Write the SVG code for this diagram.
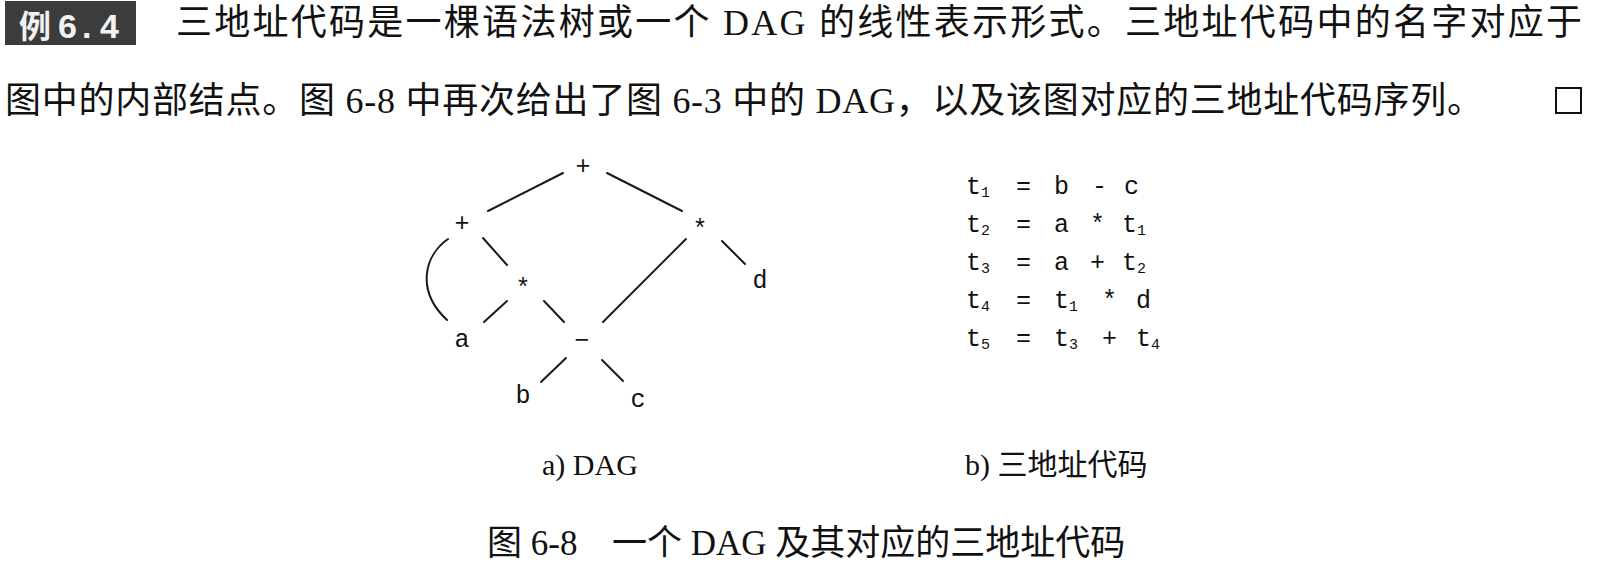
<svg xmlns="http://www.w3.org/2000/svg" width="1604" height="582" viewBox="0 0 1604 582">
<style>
.body{font-family:"Liberation Serif","Noto Sans CJK SC",serif;font-size:36px;fill:#111}
.cap{font-family:"Liberation Serif","Noto Sans CJK SC",serif;font-size:30px;fill:#111}
.cap2{font-family:"Liberation Serif","Noto Sans CJK SC",serif;font-size:35px;fill:#111}
.mono{font-family:"Liberation Mono","Courier New",monospace;font-size:25px;fill:#111}
.node{font-family:"Liberation Mono","Courier New",monospace;font-size:25px;fill:#111;text-anchor:middle}
.sub{font-size:15px}
.edge{stroke:#1a1a1a;stroke-width:2;fill:none;stroke-linecap:round}
</style>
<rect width="1604" height="582" fill="#ffffff"/>
<g id="header">
<rect x="5" y="1" width="131" height="44" fill="#3c3c3c"/>
<text y="38" font-family="Liberation Sans,'Noto Sans CJK SC',sans-serif" font-size="34" font-weight="bold" fill="#f2f2f2"><tspan x="19" font-size="32">例</tspan><tspan x="58">6</tspan><tspan x="82">.</tspan><tspan x="100">4</tspan></text>
<text class="body" x="176" y="35" textLength="1406" lengthAdjust="spacing">三地址代码是一棵语法树或一个 DAG 的线性表示形式。三地址代码中的名字对应于</text>
<text class="body" x="5" y="113" textLength="1478" lengthAdjust="spacing">图中的内部结点。图 6-8 中再次给出了图 6-3 中的 DAG，以及该图对应的三地址代码序列。</text>
<rect x="1556" y="88" width="25" height="25" fill="none" stroke="#111" stroke-width="2"/>
</g>
<g id="connectors">
<line class="edge" x1="563" y1="173" x2="488" y2="211"/>
<line class="edge" x1="607" y1="173" x2="682" y2="211"/>
<line class="edge" x1="483" y1="238" x2="507" y2="265"/>
<line class="edge" x1="722" y1="241" x2="745" y2="264"/>
<line class="edge" x1="686" y1="239" x2="603" y2="322"/>
<line class="edge" x1="507" y1="301" x2="484" y2="322"/>
<line class="edge" x1="544" y1="301" x2="564" y2="322"/>
<line class="edge" x1="566" y1="358" x2="541" y2="382"/>
<line class="edge" x1="602" y1="360" x2="623" y2="381"/>
<path class="edge" d="M448,239 C425,255 415,290 447,320"/>
</g>
<g id="n-root"><text class="node" x="583" y="174">+</text></g>
<g id="n-plus"><text class="node" x="462" y="231">+</text></g>
<g id="n-star-r"><text class="node" x="700" y="237">*</text></g>
<g id="n-star-m"><text class="node" x="523" y="296">*</text></g>
<g id="n-d"><text class="node" x="760" y="288">d</text></g>
<g id="n-a"><text class="node" x="462" y="347">a</text></g>
<g id="n-minus"><text class="node" x="582" y="348">−</text></g>
<g id="n-b"><text class="node" x="523" y="403">b</text></g>
<g id="n-c"><text class="node" x="638" y="407">c</text></g>
<g id="code">
<text class="mono" x="966" y="194">t<tspan class="sub" dy="3">1</tspan></text>
<text class="mono" x="1016" y="194">=</text>
<text class="mono" x="1054" y="194">b</text>
<text class="mono" x="1092" y="194">-</text>
<text class="mono" x="1124" y="194">c</text>

<text class="mono" x="966" y="232">t<tspan class="sub" dy="3">2</tspan></text>
<text class="mono" x="1016" y="232">=</text>
<text class="mono" x="1054" y="232">a</text>
<text class="mono" x="1090" y="232">*</text>
<text class="mono" x="1122" y="232">t<tspan class="sub" dy="3">1</tspan></text>

<text class="mono" x="966" y="270">t<tspan class="sub" dy="3">3</tspan></text>
<text class="mono" x="1016" y="270">=</text>
<text class="mono" x="1054" y="270">a</text>
<text class="mono" x="1090" y="270">+</text>
<text class="mono" x="1122" y="270">t<tspan class="sub" dy="3">2</tspan></text>

<text class="mono" x="966" y="308">t<tspan class="sub" dy="3">4</tspan></text>
<text class="mono" x="1016" y="308">=</text>
<text class="mono" x="1054" y="308">t<tspan class="sub" dy="3">1</tspan></text>
<text class="mono" x="1102" y="308">*</text>
<text class="mono" x="1136" y="308">d</text>

<text class="mono" x="966" y="346">t<tspan class="sub" dy="3">5</tspan></text>
<text class="mono" x="1016" y="346">=</text>
<text class="mono" x="1054" y="346">t<tspan class="sub" dy="3">3</tspan></text>
<text class="mono" x="1102" y="346">+</text>
<text class="mono" x="1136" y="346">t<tspan class="sub" dy="3">4</tspan></text>
</g>
<g id="captions">
<text class="cap" x="542" y="475">a) DAG</text>
<text class="cap" x="965" y="475">b) 三地址代码</text>
<text class="cap2" x="487" y="555">图 6-8</text>
<text class="cap2" x="612" y="555">一个 DAG 及其对应的三地址代码</text>
</g>
</svg>
